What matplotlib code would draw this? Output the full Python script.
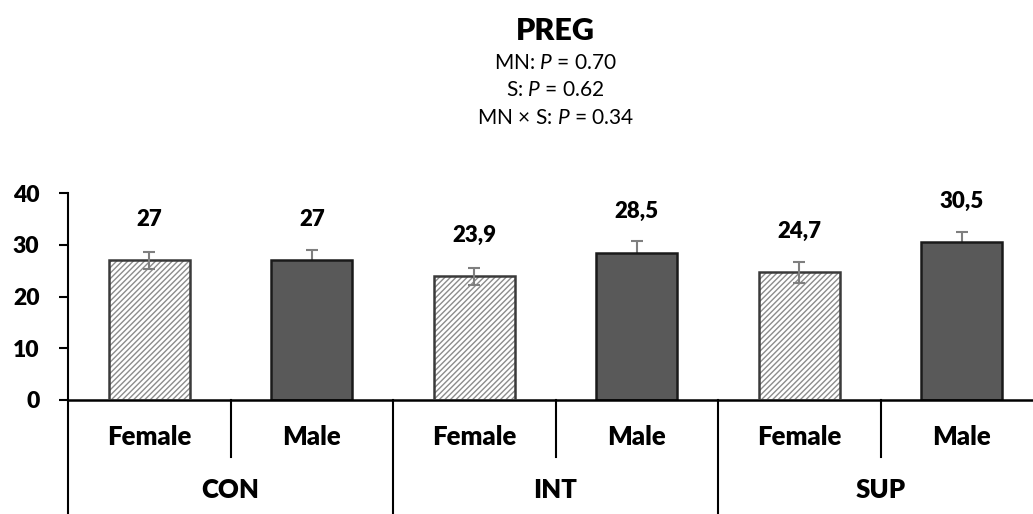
import matplotlib
matplotlib.use('AGG')

import matplotlib.pyplot as plt
from matplotlib.transforms import blended_transform_factory

plt.rcParams['font.family'] = ['Lato', 'DejaVu Sans']
plt.rcParams['mathtext.fontset'] = 'custom'
plt.rcParams['mathtext.rm'] = 'Lato'
plt.rcParams['mathtext.it'] = 'Lato:italic'
plt.rcParams['hatch.color'] = '#8c8c8c'
plt.rcParams['hatch.linewidth'] = 1.0

groups = ['CON', 'INT', 'SUP']
sexes = ['Female', 'Male', 'Female', 'Male', 'Female', 'Male']
values = [27.0, 27.0, 23.9, 28.5, 24.7, 30.5]
errors = [1.6, 2.0, 1.6, 2.2, 2.0, 2.0]
value_labels = ['27', '27', '23,9', '28,5', '24,7', '30,5']
yticks = [0, 10, 20, 30, 40]
title = 'PREG'
stats = ['MN: $\\mathit{P}$ = 0.70', 'S: $\\mathit{P}$ = 0.62',
         'MN × S: $\\mathit{P}$ = 0.34']

BOLD = 800


def main():
  W, H = 1033, 514
  fig = plt.figure(figsize=(W / 100, H / 100), dpi=100)
  left, right, y0, y40 = 68, 1043, 400, 193
  ax = fig.add_axes([left / W, (H - y0) / H, (right - left) / W, (y0 - y40) / H])

  x = list(range(len(values)))
  female = [i for i in x if sexes[i] == 'Female']
  male = [i for i in x if sexes[i] == 'Male']

  # female bars: hatch first, then outline on top
  ax.bar(female, [values[i] for i in female], width=0.5, color='white',
         edgecolor='#8c8c8c', hatch='//////', linewidth=0, zorder=2)
  ax.bar(female, [values[i] for i in female], width=0.5, fill=False,
         edgecolor='#3a3a3a', linewidth=1.8, zorder=3)
  ax.bar(male, [values[i] for i in male], width=0.5, color='#595959',
         edgecolor='#1a1a1a', linewidth=1.8, zorder=2)
  # female error bars sit over the bar, male ones behind it
  ax.errorbar(female, [values[i] for i in female], yerr=[errors[i] for i in female],
              fmt='none', ecolor='#7f7f7f', elinewidth=1.5, capsize=4, capthick=1.5, zorder=4)
  ax.errorbar(male, [values[i] for i in male], yerr=[errors[i] for i in male],
              fmt='none', ecolor='#7f7f7f', elinewidth=1.5, capsize=4, capthick=1.5, zorder=1)

  for xi, v, lab in zip(x, values, value_labels):
    ax.annotate(lab, (xi, v), xytext=(0, 41), textcoords='offset pixels',
                ha='center', va='center', fontsize=16, fontweight=BOLD)

  ax.set_xlim(-0.5, 5.5)
  ax.set_ylim(0, 40)
  ax.set_yticks(yticks)
  ax.set_yticklabels([str(t) for t in yticks], fontsize=16.5, fontweight=BOLD)
  ax.tick_params(axis='y', length=6.5, width=1.5, pad=14)
  ax.set_xticks([])
  for s in ['top', 'right']:
    ax.spines[s].set_visible(False)
  ax.spines['left'].set_linewidth(1.5)
  ax.spines['bottom'].set_linewidth(1.8)

  tr = blended_transform_factory(ax.transData, ax.transAxes)
  # category separators below the axis
  for xs in [0.5, 2.5, 4.5]:
    ax.plot([xs, xs], [0, -0.275], transform=tr, color='black', lw=1.5, clip_on=False)
  for xs in [-0.5, 1.5, 3.5]:
    ax.plot([xs, xs], [0, -0.6], transform=tr, color='black', lw=1.5, clip_on=False)

  for xi, s in zip(x, sexes):
    ax.text(xi, -0.179, s, transform=tr, ha='center', va='center',
            fontsize=18.5, fontweight=BOLD)
  for gi, g in enumerate(groups):
    ax.text(gi * 2 + 0.5, -0.435, g, transform=tr, ha='center', va='center',
            fontsize=18.5, fontweight=BOLD)

  cx = (left + right) / 2 / W
  fig.text(cx, 1 - 31 / H, title, ha='center', va='center', fontsize=22, fontweight=BOLD)
  for i, line in enumerate(stats):
    fig.text(cx, 1 - (63 + 27.5 * i) / H, line, ha='center', va='center', fontsize=15)

  fig.savefig('out.png', dpi=100)


if __name__ == "__main__":
  main()
